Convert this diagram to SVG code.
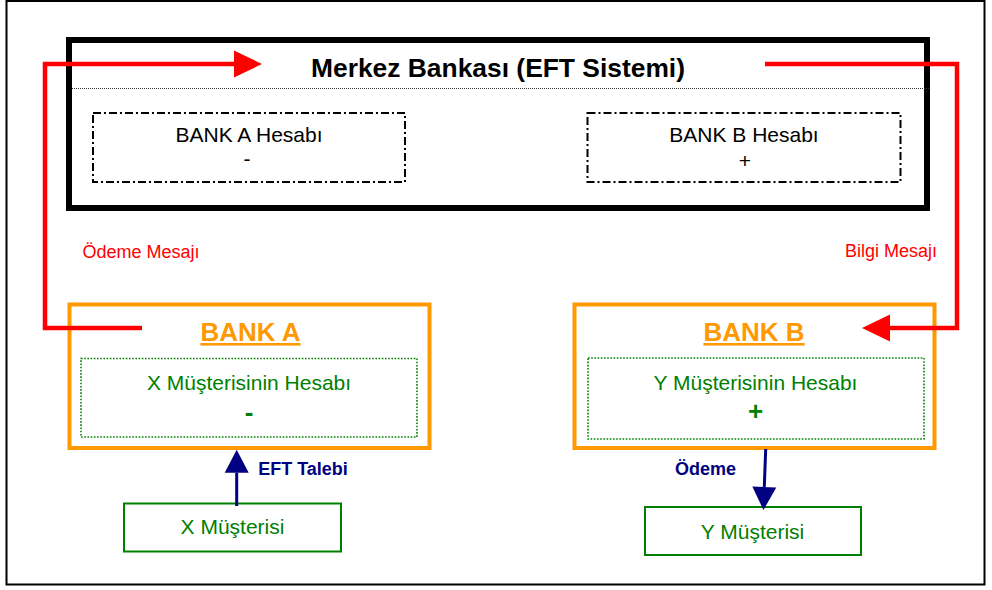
<svg xmlns="http://www.w3.org/2000/svg" width="992" height="590" viewBox="0 0 992 590">
<style>
  text { font-family: "Liberation Sans", Arial, sans-serif; text-anchor: middle; }
  .frame { fill: #fff; stroke: #000; stroke-width: 2; }
  .cb { fill: none; stroke: #000; stroke-width: 6; }
  .sep { stroke: #333; stroke-width: 1.2; stroke-dasharray: 1 1; }
  .acct { fill: none; stroke: #000; stroke-width: 2; stroke-dasharray: 8 3 2 3; }
  .bank { fill: none; stroke: #FF9900; stroke-width: 4; }
  .cacct { fill: none; stroke: #008000; stroke-width: 1.6; stroke-dasharray: 1.6 1.6; }
  .cust { fill: none; stroke: #008000; stroke-width: 2; }
  .red { fill: none; stroke: #FF0000; stroke-width: 4.5; stroke-linejoin: miter; }
  .navy { fill: none; stroke: #000080; stroke-width: 3; }
  .title { font-size: 25px; font-weight: bold; fill: #000; }
  .acctTxt { font-size: 21px; fill: #000; }
  .bankTxt { font-size: 26px; font-weight: bold; fill: #FF9900; text-decoration: underline; }
  .green { font-size: 21px; fill: #008000; }
  .sign { font-size: 26px; font-weight: bold; fill: #008000; }
  .redTxt { font-size: 18px; fill: #FF0000; }
  .navyTxt { font-size: 18px; font-weight: bold; fill: #000080; }
</style>
<defs>
  <marker id="redArrow" markerUnits="userSpaceOnUse" markerWidth="28" markerHeight="27" viewBox="0 0 28 27" refX="0" refY="13.5" orient="auto" overflow="visible">
    <path d="M0,0 L28,13.5 L0,27 Z" fill="#FF0000"/>
  </marker>
  <marker id="navyArrow" markerUnits="userSpaceOnUse" markerWidth="23" markerHeight="24" viewBox="0 0 23 24" refX="0" refY="12" orient="auto" overflow="visible">
    <path d="M0,0 L23,12 L0,24 Z" fill="#000080"/>
  </marker>
</defs>

<rect class="frame" x="6.5" y="1" width="978" height="583.5"/>

<g id="merkez-bankasi">
  <rect class="cb" x="69" y="40" width="858" height="168"/>
  <text class="title" x="498" y="77" textLength="374" lengthAdjust="spacingAndGlyphs">Merkez Bankası (EFT Sistemi)</text>
  <line class="sep" x1="72" y1="88.5" x2="930" y2="88.5"/>
</g>

<g id="bank-a-hesabi">
  <rect class="acct" x="93" y="113" width="312" height="69"/>
  <text class="acctTxt" x="249" y="142">BANK A Hesabı</text>
  <text class="acctTxt" x="247" y="166">-</text>
</g>

<g id="bank-b-hesabi">
  <rect class="acct" x="587.5" y="113" width="313" height="69"/>
  <text class="acctTxt" x="744" y="142">BANK B Hesabı</text>
  <text class="acctTxt" x="745" y="168">+</text>
</g>

<g id="bank-a">
  <rect class="bank" x="69.5" y="304.5" width="360" height="143.5"/>
  <text class="bankTxt" x="250.5" y="341">BANK A</text>
  <rect class="cacct" x="81" y="358.5" width="336" height="78.5"/>
  <text class="green" x="249" y="389.5">X Müşterisinin Hesabı</text>
  <text class="sign" x="249" y="420.5">-</text>
</g>

<g id="bank-b">
  <rect class="bank" x="574.5" y="304.5" width="360" height="143.5"/>
  <text class="bankTxt" x="754" y="341">BANK B</text>
  <rect class="cacct" x="588" y="358" width="336" height="81"/>
  <text class="green" x="755.5" y="389.5">Y Müşterisinin Hesabı</text>
  <text class="sign" x="755.5" y="420">+</text>
</g>

<g id="x-musterisi">
  <rect class="cust" x="124" y="503.5" width="217" height="48"/>
  <text class="green" x="232.5" y="533.5">X Müşterisi</text>
</g>

<g id="y-musterisi">
  <rect class="cust" x="645" y="507" width="216" height="48"/>
  <text class="green" x="752.5" y="538.5">Y Müşterisi</text>
</g>

<g id="connectors">
  <path class="red" d="M142,328 H45 V64 H234" marker-end="url(#redArrow)"/>
  <text class="redTxt" x="141" y="257.5">Ödeme Mesajı</text>
  <path class="red" d="M765,64 H957 V328 H890" marker-end="url(#redArrow)"/>
  <text class="redTxt" x="891" y="257">Bilgi Mesajı</text>
  <path class="navy" d="M236.7,506 V472.7" marker-end="url(#navyArrow)"/>
  <text class="navyTxt" x="303" y="475">EFT Talebi</text>
  <path class="navy" d="M765.7,449 L764.3,487" marker-end="url(#navyArrow)"/>
  <text class="navyTxt" x="705.5" y="475">Ödeme</text>
</g>
</svg>
